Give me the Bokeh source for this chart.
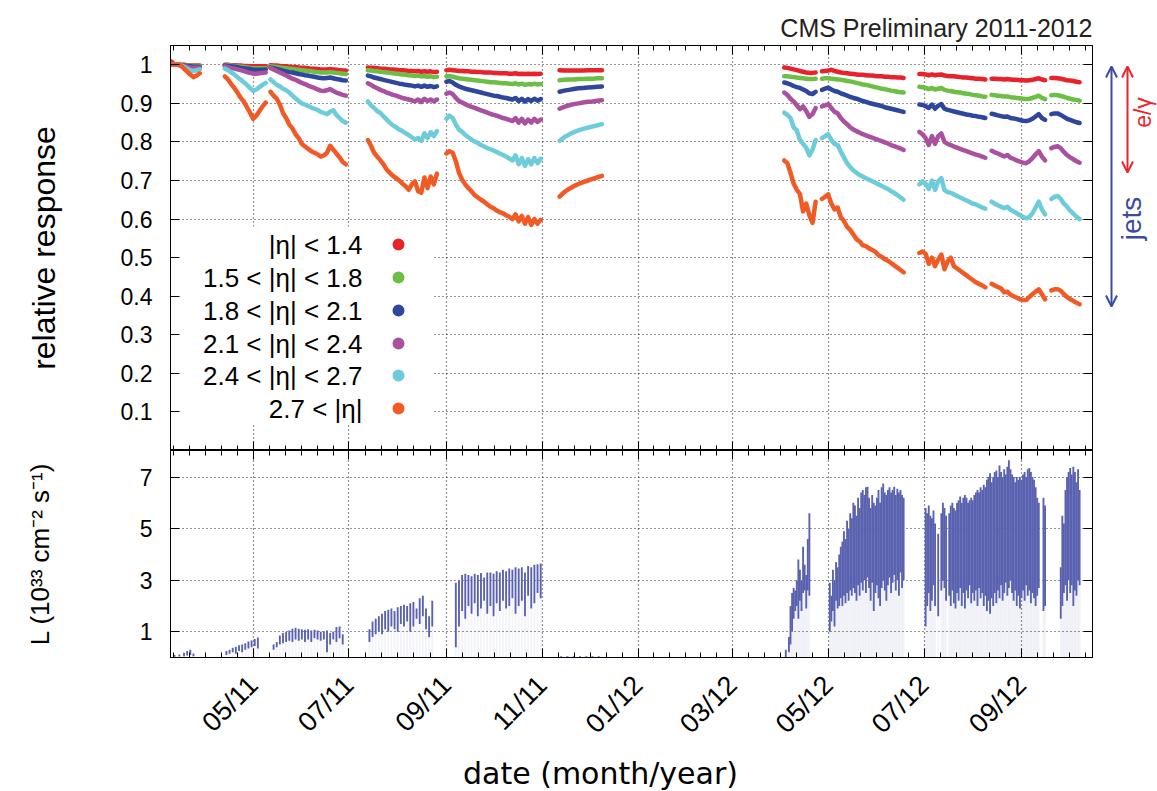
import math
from datetime import datetime, timedelta
from bokeh.plotting import figure
from bokeh.layouts import column, row
from bokeh.models import (Range1d, FixedTicker, DatetimeTickFormatter, LinearAxis, DatetimeAxis,
                          CustomJSTickFormatter, BoxAnnotation, Label, Arrow, OpenHead,
                          ColumnDataSource)
from bokeh.embed import file_html
from bokeh.resources import INLINE

# ---------------- data ----------------
REF_DATE = "2011-05-01"          # day 0 of all day offsets below
X_RANGE_DAYS = [-52.6, 534.2]    # visible date span (days from REF_DATE)
TOP_Y = [0.0, 1.05]
BOT_Y = [0.0, 8.03]
TOP_Y_TICKS = [0.1, 0.2, 0.3, 0.4, 0.5, 0.6, 0.7, 0.8, 0.9, 1.0]
BOT_Y_TICKS = [1, 3, 5, 7]
MONTH_TICKS = ["2011-05-01", "2011-07-01", "2011-09-01", "2011-11-01", "2012-01-01",
               "2012-03-01", "2012-05-01", "2012-07-01", "2012-09-01"]
MINOR_EDGES = ["2011-03-01", "2012-11-01"]

# sampling days of the response segments: (first day, last day, step)
SEGMENTS = [(-52, -34, 2), (-18, 8, 2), (11, 59, 2), (73, 117, 2), (123, 183, 2), (195, 222, 3),
            (338, 358, 2), (362, 414, 2), (424, 466, 2), (470, 504, 2), (508, 526, 2)]

RESP_RED = [
    [1.008, 1.0, 1.0, 1.0, 1.0, 0.999, 0.999, 0.998, 0.998, 0.998],
    [1.0, 1.0, 0.999, 0.999, 0.998, 0.998, 0.997, 0.997, 0.996, 0.996, 0.996, 0.996, 0.996, 0.996],
    [0.999, 0.998, 0.998, 0.997, 0.996, 0.996, 0.995, 0.994, 0.994, 0.993, 0.992, 0.992, 0.991, 0.99,
     0.99, 0.989, 0.988, 0.988, 0.988, 0.989, 0.988, 0.987, 0.986, 0.985, 0.985],
    [0.993, 0.992, 0.992, 0.991, 0.99, 0.99, 0.989, 0.988, 0.988, 0.987, 0.986, 0.986, 0.985, 0.984,
     0.984, 0.983, 0.984, 0.982, 0.983, 0.982, 0.983, 0.981, 0.982],
    [0.986, 0.987, 0.986, 0.985, 0.984, 0.984, 0.983, 0.983, 0.982, 0.982, 0.981, 0.981, 0.98, 0.98,
     0.98, 0.979, 0.979, 0.978, 0.978, 0.978, 0.977, 0.977, 0.978, 0.976, 0.977, 0.976, 0.977, 0.976,
     0.977, 0.976, 0.977],
    [0.986, 0.985, 0.985, 0.985, 0.985, 0.985, 0.986, 0.986, 0.986, 0.986],
    [0.993, 0.992, 0.99, 0.988, 0.986, 0.984, 0.982, 0.98, 0.979, 0.979, 0.98],
    [0.983, 0.984, 0.985, 0.987, 0.984, 0.982, 0.98, 0.979, 0.978, 0.977, 0.976, 0.975, 0.974, 0.974,
     0.973, 0.972, 0.972, 0.971, 0.97, 0.97, 0.969, 0.969, 0.968, 0.968, 0.967, 0.967, 0.966],
    [0.976, 0.976, 0.975, 0.973, 0.975, 0.973, 0.974, 0.975, 0.972, 0.971, 0.97, 0.97, 0.969, 0.968,
     0.967, 0.967, 0.966, 0.965, 0.964, 0.964, 0.963, 0.962],
    [0.964, 0.964, 0.963, 0.963, 0.962, 0.963, 0.962, 0.961, 0.961, 0.96, 0.96, 0.959, 0.96, 0.961,
     0.963, 0.965, 0.962, 0.96],
    [0.966, 0.966, 0.965, 0.964, 0.962, 0.96, 0.959, 0.958, 0.956, 0.955],
]
RESP_GREEN = [
    [1.0, 1.0, 1.0, 1.0, 0.999, 0.998, 0.998, 0.997, 0.997, 0.997],
    [0.999, 0.999, 0.998, 0.997, 0.996, 0.995, 0.994, 0.993, 0.992, 0.991, 0.991, 0.991, 0.991, 0.991],
    [0.996, 0.995, 0.994, 0.993, 0.992, 0.991, 0.99, 0.989, 0.988, 0.987, 0.986, 0.985, 0.984, 0.983,
     0.982, 0.981, 0.98, 0.98, 0.98, 0.981, 0.98, 0.979, 0.978, 0.977, 0.976],
    [0.986, 0.985, 0.984, 0.983, 0.982, 0.981, 0.98, 0.979, 0.978, 0.977, 0.976, 0.975, 0.974, 0.973,
     0.972, 0.971, 0.972, 0.97, 0.971, 0.969, 0.97, 0.968, 0.969],
    [0.97, 0.971, 0.969, 0.967, 0.965, 0.964, 0.963, 0.962, 0.961, 0.96, 0.959, 0.958, 0.957, 0.956,
     0.955, 0.955, 0.954, 0.953, 0.952, 0.952, 0.951, 0.95, 0.952, 0.949, 0.951, 0.948, 0.95, 0.949,
     0.951, 0.949, 0.95],
    [0.96, 0.961, 0.962, 0.962, 0.963, 0.963, 0.964, 0.964, 0.965, 0.965],
    [0.97, 0.97, 0.969, 0.968, 0.967, 0.966, 0.965, 0.964, 0.963, 0.963, 0.964],
    [0.964, 0.965, 0.965, 0.964, 0.963, 0.962, 0.961, 0.96, 0.958, 0.957, 0.955, 0.953, 0.951, 0.949,
     0.948, 0.946, 0.944, 0.942, 0.94, 0.938, 0.937, 0.935, 0.933, 0.932, 0.93, 0.929, 0.928],
    [0.943, 0.942, 0.94, 0.937, 0.94, 0.936, 0.938, 0.94, 0.935, 0.933, 0.932, 0.93, 0.929, 0.928,
     0.926, 0.925, 0.924, 0.922, 0.921, 0.92, 0.918, 0.917],
    [0.922, 0.921, 0.92, 0.919, 0.918, 0.918, 0.916, 0.915, 0.914, 0.913, 0.912, 0.911, 0.912, 0.914,
     0.917, 0.92, 0.914, 0.911],
    [0.921, 0.922, 0.921, 0.919, 0.917, 0.914, 0.912, 0.91, 0.909, 0.907],
]
RESP_BLUE = [
    [1.0, 1.0, 1.0, 0.999, 0.998, 0.997, 0.996, 0.995, 0.995, 0.995],
    [0.998, 0.997, 0.996, 0.995, 0.994, 0.992, 0.991, 0.99, 0.989, 0.987, 0.987, 0.987, 0.987, 0.988],
    [0.993, 0.991, 0.989, 0.987, 0.985, 0.983, 0.981, 0.98, 0.978, 0.976, 0.975, 0.973, 0.972, 0.97,
     0.969, 0.967, 0.966, 0.965, 0.966, 0.967, 0.965, 0.963, 0.962, 0.96, 0.959],
    [0.972, 0.97, 0.967, 0.965, 0.963, 0.961, 0.959, 0.957, 0.955, 0.953, 0.951, 0.95, 0.948, 0.947,
     0.946, 0.944, 0.946, 0.943, 0.946, 0.943, 0.945, 0.942, 0.944],
    [0.956, 0.958, 0.954, 0.948, 0.944, 0.941, 0.938, 0.936, 0.934, 0.932, 0.93, 0.928, 0.926, 0.924,
     0.922, 0.92, 0.919, 0.917, 0.915, 0.914, 0.912, 0.91, 0.914, 0.906, 0.912, 0.905, 0.911, 0.906,
     0.912, 0.907, 0.911],
    [0.93, 0.933, 0.935, 0.937, 0.939, 0.94, 0.941, 0.942, 0.943, 0.944],
    [0.954, 0.952, 0.949, 0.945, 0.942, 0.94, 0.936, 0.932, 0.926, 0.924, 0.93],
    [0.935, 0.938, 0.941, 0.936, 0.932, 0.93, 0.926, 0.923, 0.92, 0.917, 0.914, 0.912, 0.909, 0.906,
     0.904, 0.901, 0.899, 0.897, 0.895, 0.893, 0.89, 0.888, 0.886, 0.884, 0.882, 0.88, 0.878],
    [0.897, 0.896, 0.893, 0.888, 0.897, 0.886, 0.894, 0.898, 0.886, 0.883, 0.881, 0.879, 0.877, 0.875,
     0.873, 0.871, 0.87, 0.868, 0.867, 0.865, 0.864, 0.862],
    [0.873, 0.871, 0.869, 0.867, 0.865, 0.866, 0.862, 0.861, 0.859, 0.857, 0.855, 0.854, 0.856, 0.86,
     0.866, 0.872, 0.862, 0.857],
    [0.872, 0.874, 0.874, 0.87, 0.865, 0.86, 0.857, 0.854, 0.851, 0.849],
]
RESP_MAGENTA = [
    [1.0, 1.0, 1.0, 0.999, 0.997, 0.995, 0.993, 0.992, 0.992, 0.993],
    [0.996, 0.994, 0.992, 0.99, 0.988, 0.986, 0.984, 0.981, 0.979, 0.977, 0.977, 0.978, 0.979, 0.98],
    [0.992, 0.988, 0.984, 0.98, 0.976, 0.972, 0.968, 0.964, 0.961, 0.957, 0.953, 0.95, 0.946, 0.943,
     0.94, 0.936, 0.933, 0.932, 0.934, 0.937, 0.932, 0.928, 0.925, 0.922, 0.92],
    [0.952, 0.948, 0.943, 0.939, 0.935, 0.932, 0.928, 0.925, 0.922, 0.92, 0.917, 0.914, 0.912, 0.91,
     0.908, 0.905, 0.91, 0.904, 0.912, 0.906, 0.91, 0.905, 0.91],
    [0.925, 0.928, 0.924, 0.914, 0.906, 0.902, 0.898, 0.894, 0.891, 0.888, 0.885, 0.882, 0.879, 0.876,
     0.873, 0.87, 0.868, 0.865, 0.862, 0.86, 0.857, 0.854, 0.862, 0.85, 0.86, 0.848, 0.858, 0.85,
     0.86, 0.852, 0.858],
    [0.886, 0.891, 0.895, 0.898, 0.9, 0.902, 0.904, 0.905, 0.907, 0.908],
    [0.928, 0.922, 0.912, 0.905, 0.895, 0.885, 0.892, 0.88, 0.865, 0.872, 0.888],
    [0.892, 0.895, 0.898, 0.888, 0.878, 0.874, 0.862, 0.853, 0.846, 0.838, 0.832, 0.828, 0.824, 0.82,
     0.817, 0.814, 0.811, 0.808, 0.805, 0.802, 0.799, 0.796, 0.792, 0.789, 0.786, 0.783, 0.779],
    [0.826, 0.82, 0.81, 0.792, 0.815, 0.795, 0.815, 0.822, 0.8, 0.795, 0.792, 0.788, 0.785, 0.782,
     0.779, 0.776, 0.773, 0.77, 0.767, 0.765, 0.762, 0.759],
    [0.777, 0.773, 0.77, 0.766, 0.762, 0.766, 0.759, 0.756, 0.752, 0.749, 0.746, 0.745, 0.75, 0.758,
     0.768, 0.776, 0.762, 0.752],
    [0.784, 0.787, 0.789, 0.784, 0.774, 0.766, 0.76, 0.755, 0.75, 0.746],
]
RESP_CYAN = [
    [1.0, 1.0, 1.0, 0.999, 0.995, 0.99, 0.986, 0.984, 0.986, 0.988],
    [0.99, 0.986, 0.98, 0.975, 0.968, 0.962, 0.955, 0.948, 0.94, 0.932, 0.936, 0.942, 0.948, 0.953],
    [0.962, 0.955, 0.948, 0.944, 0.938, 0.934, 0.928, 0.92, 0.913, 0.906, 0.9, 0.897, 0.893, 0.889,
     0.886, 0.883, 0.878, 0.875, 0.872, 0.878, 0.882, 0.87, 0.862, 0.854, 0.85],
    [0.905, 0.895, 0.888, 0.88, 0.875, 0.866, 0.858, 0.85, 0.843, 0.838, 0.832, 0.828, 0.823, 0.818,
     0.812, 0.806, 0.81, 0.803, 0.822, 0.81, 0.825, 0.815, 0.828],
    [0.86, 0.868, 0.862, 0.845, 0.832, 0.826, 0.818, 0.812, 0.806, 0.801, 0.797, 0.792, 0.788, 0.784,
     0.781, 0.778, 0.774, 0.77, 0.766, 0.762, 0.757, 0.752, 0.765, 0.742, 0.758, 0.738, 0.755, 0.742,
     0.758, 0.745, 0.756],
    [0.803, 0.812, 0.819, 0.825, 0.83, 0.834, 0.837, 0.84, 0.843, 0.846],
    [0.876, 0.87, 0.862, 0.838, 0.83, 0.805, 0.795, 0.785, 0.765, 0.78, 0.805],
    [0.81, 0.815, 0.82, 0.805, 0.795, 0.792, 0.775, 0.76, 0.745, 0.735, 0.726, 0.72, 0.714, 0.71,
     0.706, 0.702, 0.698, 0.694, 0.69, 0.686, 0.682, 0.678, 0.672, 0.668, 0.662, 0.656, 0.65],
    [0.69, 0.698, 0.692, 0.678, 0.7, 0.676, 0.698, 0.706, 0.675, 0.67, 0.668, 0.664, 0.66, 0.656,
     0.652, 0.648, 0.644, 0.64, 0.638, 0.634, 0.63, 0.627],
    [0.645, 0.64, 0.636, 0.632, 0.628, 0.632, 0.624, 0.62, 0.615, 0.61, 0.606, 0.602, 0.605, 0.615,
     0.63, 0.645, 0.625, 0.612],
    [0.652, 0.658, 0.66, 0.652, 0.64, 0.632, 0.622, 0.614, 0.606, 0.6],
]
RESP_ORANGE = [
    [1.0, 1.0, 1.0, 0.998, 0.99, 0.982, 0.975, 0.968, 0.972, 0.978],
    [0.97, 0.962, 0.95, 0.94, 0.928, 0.915, 0.905, 0.89, 0.876, 0.86, 0.868, 0.88, 0.892, 0.902],
    [0.93, 0.92, 0.912, 0.897, 0.875, 0.862, 0.845, 0.835, 0.82, 0.81, 0.795, 0.788, 0.782, 0.776,
     0.772, 0.768, 0.762, 0.765, 0.772, 0.79, 0.78, 0.77, 0.76, 0.748, 0.742],
    [0.805, 0.79, 0.772, 0.762, 0.752, 0.742, 0.728, 0.72, 0.712, 0.706, 0.7, 0.692, 0.685, 0.676,
     0.69, 0.698, 0.672, 0.668, 0.708, 0.68, 0.71, 0.69, 0.718],
    [0.77, 0.776, 0.772, 0.75, 0.72, 0.702, 0.69, 0.68, 0.672, 0.662, 0.656, 0.65, 0.645, 0.638,
     0.632, 0.628, 0.622, 0.618, 0.615, 0.61, 0.606, 0.6, 0.612, 0.594, 0.608, 0.588, 0.605, 0.585,
     0.6, 0.588, 0.598],
    [0.658, 0.67, 0.678, 0.685, 0.691, 0.696, 0.7, 0.704, 0.708, 0.712],
    [0.752, 0.745, 0.72, 0.692, 0.676, 0.665, 0.62, 0.64, 0.61, 0.59, 0.645],
    [0.652, 0.658, 0.664, 0.64, 0.625, 0.63, 0.605, 0.595, 0.58, 0.572, 0.56, 0.548, 0.542, 0.532,
     0.53, 0.524, 0.52, 0.515, 0.506, 0.502, 0.496, 0.492, 0.486, 0.48, 0.474, 0.468, 0.462],
    [0.512, 0.516, 0.51, 0.484, 0.5, 0.478, 0.495, 0.508, 0.47, 0.49, 0.5, 0.478, 0.472, 0.466,
     0.46, 0.454, 0.448, 0.442, 0.436, 0.432, 0.428, 0.423],
    [0.432, 0.428, 0.424, 0.42, 0.41, 0.412, 0.404, 0.4, 0.396, 0.392, 0.39, 0.39, 0.398, 0.405,
     0.412, 0.418, 0.405, 0.392],
    [0.415, 0.418, 0.418, 0.414, 0.405, 0.398, 0.392, 0.388, 0.383, 0.379],
]

LEGEND_LABELS = ["|η| < 1.4", "1.5 < |η| < 1.8", "1.8 < |η| < 2.1",
                 "2.1 < |η| < 2.4", "2.4 < |η| < 2.7", "2.7 < |η|"]
COLORS = ["#E8212B", "#6DBE45", "#2E479C", "#A9519F", "#6CCCD9", "#F15A24"]

# instantaneous luminosity per fill: day, lowest and highest value (10^33 cm^-2 s^-1)
LUMI_DAY = [
    -50, -47, -44, -42, -40, -38,
    -17, -15, -13, -11, -9, -7, -5, -3, -1, 1, 3,
    13, 15, 17, 19, 21, 23, 25, 27, 29, 31, 33, 35, 37, 39, 41, 43, 45, 47, 49, 51, 53, 55, 57,
    74, 76, 78, 80, 82, 84, 86, 88, 90, 92, 94, 96, 98, 100, 102, 104, 106, 108, 110, 112, 114,
    129, 131, 133, 135, 137, 139, 141, 143, 145, 147, 149, 151, 153, 155, 157, 159, 161, 163, 165,
    167, 169, 171, 173, 175, 177, 179, 181, 183,
    196, 200, 204, 208, 212, 216, 220,
    339, 341, 342, 343, 344, 345, 346, 347, 348, 349, 350, 351, 352, 353, 354,
    367, 368, 369, 370, 371, 372, 373, 374, 375, 376, 377, 378, 379, 380, 381, 382, 383, 384, 385,
    386, 387, 388, 389, 390, 391, 392, 393, 394, 395, 396, 397, 398, 399, 400, 401, 402, 403, 404,
    405, 406, 407, 408, 409, 410, 411, 412, 413, 414,
    428, 429, 430, 431, 432, 433, 434, 436, 438, 439, 440, 441, 443, 444, 445, 446, 447, 448, 449,
    450, 451, 452, 453, 454, 455, 456, 457, 458, 459, 460, 461, 462, 463, 464, 465, 466, 467, 468,
    469, 470, 471, 472, 473, 474, 475, 476, 477, 478, 479, 480, 481, 482, 483, 484, 485, 486, 487,
    488, 489, 490, 491, 492, 493, 494, 495, 496, 497, 498, 499, 500, 503, 504,
    514, 515, 516, 517, 518, 519, 520, 521, 522, 523, 524, 525, 526,
]
LUMI_LOW = [
    0.03, 0.04, 0.05, 0.08, 0.10, 0.05,
    0.10, 0.15, 0.20, 0.15, 0.25, 0.20, 0.30, 0.35, 0.40, 0.45, 0.35,
    0.3, 0.4, 0.5, 0.55, 0.6, 0.65, 0.6, 0.7, 0.65, 0.7, 0.6, 0.7, 0.6, 0.75, 0.7, 0.65, 0.7, 0.2,
    0.5, 0.7, 0.6, 0.75, 0.5,
    0.6, 0.8, 0.9, 1.0, 0.9, 1.1, 1.0, 1.2, 1.1, 1.0, 1.3, 1.2, 1.4, 1.0, 1.2, 1.5, 1.3, 1.6, 1.1,
    0.8, 1.2,
    0.4, 1.2, 1.8, 1.5, 2.0, 1.7, 2.1, 1.6, 1.9, 2.2, 1.7, 2.0, 1.6, 2.1, 1.8, 2.2, 1.9, 2.0, 2.3,
    1.7, 2.0, 2.2, 1.6, 2.4, 1.9, 2.1, 2.5, 2.3,
    0.0, 0.0, 0.0, 0.0, 0.0, 0.0, 0.0,
    0.0, 0.2, 0.5, 1.0, 1.5, 1.8, 2.0, 1.5, 2.2, 1.8, 2.5, 2.6, 1.9, 2.6, 2.4,
    1.0, 1.4, 1.8, 1.2, 2.2, 1.9, 2.0, 2.3, 2.0, 2.4, 2.1, 2.5, 2.2, 2.6, 2.4, 2.7, 2.5, 2.2, 2.8,
    2.4, 2.9, 2.6, 3.0, 2.5, 3.1, 2.7, 2.2, 2.9, 1.8, 2.5, 2.8, 2.3, 2.0, 2.7, 3.0, 2.6, 2.2, 2.8,
    3.1, 2.5, 2.9, 3.2, 2.6, 3.0, 2.4, 3.3, 2.7, 3.0,
    1.2, 2.0, 2.5, 1.8, 2.2, 2.8, 2.0, 1.6, 2.6, 3.0, 2.7, 2.2, 2.4, 2.0, 2.6, 2.1, 1.9, 2.5, 2.2,
    2.7, 2.0, 2.5, 1.9, 2.6, 2.3, 2.8, 2.1, 2.5, 2.2, 2.6, 2.0, 2.7, 2.3, 2.5, 2.0, 2.4, 1.8, 2.2,
    1.7, 2.3, 2.0, 2.5, 2.1, 2.6, 2.3, 2.8, 2.2, 2.5, 2.9, 2.4, 2.7, 3.0, 2.5, 2.2, 2.6, 2.0, 2.4,
    1.9, 2.3, 2.6, 2.2, 2.8, 2.4, 2.6, 2.1, 2.5, 2.3, 2.0, 2.4, 2.7, 1.8, 2.0,
    1.5, 2.0, 2.5, 2.8, 2.2, 3.0, 2.5, 2.8, 2.0, 2.6, 2.4, 3.0, 2.8,
]
LUMI_HIGH = [
    0.10, 0.12, 0.18, 0.25, 0.30, 0.16,
    0.25, 0.30, 0.38, 0.42, 0.48, 0.50, 0.55, 0.62, 0.66, 0.72, 0.78,
    0.5, 0.6, 0.85, 0.95, 1.0, 1.05, 1.12, 1.15, 1.12, 1.1, 1.08, 1.1, 1.05, 1.08, 1.05, 1.0, 1.02,
    1.05, 0.95, 1.0, 1.18, 1.2, 0.9,
    1.1, 1.4, 1.5, 1.6, 1.7, 1.8, 1.85, 1.9, 1.8, 1.95, 2.0, 2.05, 2.0, 2.1, 2.15, 1.9, 2.3, 2.4,
    1.9, 1.6, 2.2,
    2.9, 3.0, 3.2, 3.25, 3.2, 3.15, 3.25, 3.2, 3.28, 3.1, 3.3, 3.3, 3.25, 3.35, 3.3, 3.4, 3.35,
    3.45, 3.4, 3.5, 3.45, 3.5, 3.3, 3.55, 3.5, 3.6, 3.62, 3.65,
    0.05, 0.05, 0.05, 0.05, 0.05, 0.05, 0.05,
    0.3, 0.8, 2.0, 2.5, 2.7, 2.6, 3.0, 3.8, 3.4, 3.0, 4.3, 3.6, 3.2, 4.6, 5.6,
    2.9, 2.4, 3.4, 3.0, 3.7, 3.5, 4.0, 4.3, 4.5, 4.9, 4.6, 5.3, 5.0, 5.6, 5.4, 6.0, 5.9, 5.5, 6.2,
    5.8, 6.4, 6.5, 6.3, 6.6, 6.62, 6.2, 5.8, 6.3, 6.0, 5.9, 6.2, 6.5, 6.0, 6.6, 6.75, 6.4, 6.3, 6.5,
    6.6, 6.4, 6.5, 6.62, 6.3, 6.55, 6.4, 6.5, 6.3, 6.2,
    5.8, 5.6, 5.9, 5.5, 5.4, 5.7, 5.2, 4.8, 5.6, 6.0, 5.8, 5.5, 5.6, 5.9, 6.0, 5.8, 5.7, 6.0, 6.1,
    6.25, 6.0, 6.2, 6.3, 6.2, 6.0, 6.1, 6.2, 6.1, 6.3, 6.4, 6.5, 6.4, 6.6, 6.5, 6.7, 6.6, 6.9, 7.0,
    7.15, 6.8, 7.0, 7.2, 7.25, 7.0, 7.45, 7.2, 7.0, 7.3, 7.1, 7.4, 7.65, 7.3, 7.1, 7.0, 6.8, 7.0,
    6.9, 7.0, 6.9, 7.1, 7.2, 7.0, 7.3, 7.35, 7.2, 7.0, 6.9, 6.6, 6.2, 6.0, 6.2, 5.9,
    3.5, 5.5, 5.2, 6.5, 7.0, 7.2, 7.35, 7.1, 7.4, 7.2, 6.8, 7.3, 6.5,
]
LUMI_COLOR = "#5A62B0"

# ---------------- layout (pixels) ----------------
PAGE_W, PAGE_H = 1157, 791
FRAME_LEFT, FRAME_WIDTH, RIGHT_BORDER = 170, 922, 65
TOP_RIGHT_PAD = 4
TOP_BORDER, TOP_FRAME_H = 45, 405
BOT_FRAME_H, BOT_BORDER = 207, 96
FONT = "Liberation Sans"

EPOCH = datetime(1970, 1, 1)
REF = datetime.strptime(REF_DATE, "%Y-%m-%d")
DAY_MS = 86400000.0


def day_ms(d):
    return (REF + timedelta(days=d) - EPOCH).total_seconds() * 1000.0


def date_ms(s):
    return (datetime.strptime(s, "%Y-%m-%d") - EPOCH).total_seconds() * 1000.0


X0, X1 = day_ms(X_RANGE_DAYS[0]), day_ms(X_RANGE_DAYS[1])


def px_x(px):
    return X0 + (px - FRAME_LEFT) / FRAME_WIDTH * (X1 - X0)


def py_top(py):
    return TOP_Y[1] - (py - TOP_BORDER) / TOP_FRAME_H * (TOP_Y[1] - TOP_Y[0])


major_ms = [date_ms(s) for s in MONTH_TICKS]
edges = [date_ms(MINOR_EDGES[0])] + major_ms + [date_ms(MINOR_EDGES[1])]
minor_ms = []
for a, b in zip(edges[:-1], edges[1:]):
    minor_ms += [a + k * (b - a) / 6.0 for k in range(6)]
minor_ms.append(edges[-1])

EMPTY = "return '';"


def x_ticker():
    return FixedTicker(ticks=major_ms, minor_ticks=minor_ms)


def style_axis(ax, show_labels, size="23px", label_size="32px"):
    ax.axis_line_color = "black"
    ax.axis_line_width = 1
    ax.major_tick_in = 9
    ax.major_tick_out = 0
    ax.minor_tick_in = 5
    ax.minor_tick_out = 0
    ax.major_tick_line_color = "black"
    ax.minor_tick_line_color = "black"
    ax.major_label_text_font = FONT
    ax.major_label_text_color = "black"
    if show_labels:
        ax.major_label_text_font_size = size
        ax.major_label_standoff = 18
    else:
        ax.formatter = CustomJSTickFormatter(code=EMPTY)
        ax.major_label_text_font_size = "1px"
        ax.major_label_standoff = 0
    ax.axis_label_text_font = FONT
    ax.axis_label_text_font_style = "normal"
    ax.axis_label_text_font_size = label_size
    ax.axis_label_text_color = "black"


def style_grid(p, yticks):
    p.xgrid.ticker = x_ticker()
    p.ygrid.ticker = FixedTicker(ticks=yticks)
    for g in (p.xgrid[0], p.ygrid[0]):
        g.grid_line_color = "black"
        g.grid_line_alpha = 0.85
        g.grid_line_dash = "1 3"
        g.grid_line_width = 1.2


def blank_figure(x0, x1, y0, y1, fw, fh, border_top=0, border_left=0, border_right=0):
    f = figure(frame_width=fw, frame_height=fh, x_range=Range1d(x0, x1), y_range=Range1d(y1, y0),
               output_backend="svg", toolbar_location=None,
               min_border_left=border_left, min_border_right=border_right,
               min_border_top=border_top, min_border_bottom=0,
               x_axis_location=None, y_axis_location=None)
    f.outline_line_color = None
    f.xgrid.visible = False
    f.ygrid.visible = False
    return f


xr = Range1d(X0, X1)

# ---------------- top panel: relative response ----------------
top = figure(frame_width=FRAME_WIDTH, frame_height=TOP_FRAME_H, x_range=xr,
             y_range=Range1d(TOP_Y[0], TOP_Y[1]), x_axis_type="datetime",
             output_backend="svg", toolbar_location=None,
             min_border_left=FRAME_LEFT, min_border_right=TOP_RIGHT_PAD,
             min_border_top=TOP_BORDER, min_border_bottom=0)
top.outline_line_color = "black"
top.xaxis.ticker = x_ticker()
style_axis(top.xaxis[0], False)
top.yaxis.ticker = FixedTicker(ticks=TOP_Y_TICKS, minor_ticks=[])
top.yaxis.formatter = CustomJSTickFormatter(
    code="return Math.abs(tick - 1) < 1e-9 ? '1' : tick.toFixed(1);")
style_axis(top.yaxis[0], True)
top.yaxis.axis_label = "relative response"
top.yaxis.axis_label_standoff = 56

ax_above = DatetimeAxis(ticker=x_ticker())
style_axis(ax_above, False)
top.add_layout(ax_above, "above")
ax_right = LinearAxis(ticker=FixedTicker(ticks=TOP_Y_TICKS, minor_ticks=[]))
style_axis(ax_right, False)
top.add_layout(ax_right, "right")
style_grid(top, TOP_Y_TICKS)

top.title.text = "CMS Preliminary 2011-2012"
top.title.align = "right"
top.title.text_font = FONT
top.title.text_font_size = "25px"
top.title.text_font_style = "normal"
top.title.text_color = "#222222"
top.title.standoff = 8

# legend background (under the data, over the grid)
top.add_layout(BoxAnnotation(right=px_x(433), top=py_top(226), bottom=py_top(424),
                             fill_color="white", fill_alpha=1.0, line_alpha=0, level="underlay"))

seg_days = [list(range(a, b + 1, s)) for a, b, s in SEGMENTS]
for color, segs in zip(COLORS, [RESP_RED, RESP_GREEN, RESP_BLUE, RESP_MAGENTA, RESP_CYAN, RESP_ORANGE]):
    xs, ys = [], []
    for days, vals in zip(seg_days, segs):
        pairs = list(zip(days, vals))
        xs.append([day_ms(d) for d, _ in pairs])
        ys.append([v for _, v in pairs])
    top.multi_line(xs=xs, ys=ys, line_color=color, line_width=4.5,
                   line_join="round", line_cap="round")

LEG_ROWS_PX = [244, 277, 310, 343, 375, 408]
for lab, ry in zip(LEGEND_LABELS, LEG_ROWS_PX):
    top.add_layout(Label(x=px_x(362), y=py_top(ry), text=lab, text_align="right",
                         text_baseline="middle", text_font=FONT, text_font_size="26px",
                         text_color="black"))
top.scatter(x=[px_x(398)] * len(COLORS), y=[py_top(r) for r in LEG_ROWS_PX],
            size=12, color=COLORS, marker="circle", line_alpha=0)

# ---------------- right strip with the jets / e-gamma ranges ----------------
STRIP_LEFT = FRAME_LEFT + FRAME_WIDTH + TOP_RIGHT_PAD
strip = blank_figure(STRIP_LEFT, PAGE_W, TOP_BORDER, TOP_BORDER + TOP_FRAME_H,
                     PAGE_W - STRIP_LEFT, TOP_FRAME_H, border_top=TOP_BORDER)
JETS_BLUE, EG_RED = "#3B4BA0", "#E8262E"
strip.add_layout(Arrow(x_start=1111, y_start=306, x_end=1111, y_end=66,
                       line_color=JETS_BLUE, line_width=2,
                       start=OpenHead(size=11, line_color=JETS_BLUE, line_width=2),
                       end=OpenHead(size=11, line_color=JETS_BLUE, line_width=2)))
strip.add_layout(Arrow(x_start=1127, y_start=172, x_end=1127, y_end=66,
                       line_color=EG_RED, line_width=2,
                       start=OpenHead(size=11, line_color=EG_RED, line_width=2),
                       end=OpenHead(size=11, line_color=EG_RED, line_width=2)))
strip.add_layout(Label(x=1131, y=218, text="jets", angle=math.pi / 2,
                       text_align="center", text_baseline="middle", text_font=FONT,
                       text_font_size="28px", text_color=JETS_BLUE))
strip.add_layout(Label(x=1142, y=112, text="e/γ", angle=math.pi / 2,
                       text_align="center", text_baseline="middle", text_font=FONT,
                       text_font_size="23px", text_color=EG_RED))

# ---------------- bottom panel: luminosity ----------------
bot = figure(frame_width=FRAME_WIDTH, frame_height=BOT_FRAME_H, x_range=xr,
             y_range=Range1d(BOT_Y[0], BOT_Y[1]), x_axis_type="datetime",
             output_backend="svg", toolbar_location=None,
             min_border_left=FRAME_LEFT, min_border_right=RIGHT_BORDER,
             min_border_top=0, min_border_bottom=BOT_BORDER)
bot.outline_line_color = "black"
bot.xaxis.ticker = x_ticker()
bot.xaxis.formatter = DatetimeTickFormatter(days="%m/%y", months="%m/%y", years="%m/%y",
                                            hours="%m/%y", hourmin="%m/%y")
style_axis(bot.xaxis[0], True, size="27px")
bot.xaxis.major_label_orientation = math.pi / 4
bot.xaxis.major_label_standoff = 23
bot.yaxis.ticker = FixedTicker(ticks=BOT_Y_TICKS, minor_ticks=[])
style_axis(bot.yaxis[0], True, label_size="26px")
bot.yaxis.axis_label = "L (10³³ cm⁻² s⁻¹)"
bot.yaxis.axis_label_standoff = 82

bax_above = DatetimeAxis(ticker=x_ticker())
style_axis(bax_above, False)
bot.add_layout(bax_above, "above")
bax_right = LinearAxis(ticker=FixedTicker(ticks=BOT_Y_TICKS, minor_ticks=[]))
style_axis(bax_right, False)
bot.add_layout(bax_right, "right")
style_grid(bot, BOT_Y_TICKS)

rows = list(zip(LUMI_DAY, LUMI_LOW, LUMI_HIGH))
lsrc = ColumnDataSource(data=dict(x=[day_ms(d) for d, _, _ in rows],
                                  low=[lo for _, lo, _ in rows],
                                  high=[hi for _, _, hi in rows]))
bot.vbar(x="x", width=1.2 * DAY_MS, bottom=0, top="low", source=lsrc,
         fill_color=LUMI_COLOR, fill_alpha=0.07, line_alpha=0)
bot.vbar(x="x", width=1.2 * DAY_MS, bottom="low", top="high", source=lsrc,
         fill_color=LUMI_COLOR, fill_alpha=1.0, line_alpha=0)

# ---------------- x-axis title strip (frame aligned with the panels) ----------------
TOP_TOTAL = TOP_BORDER + TOP_FRAME_H + 1
STRIP_Y0 = TOP_TOTAL + BOT_FRAME_H + BOT_BORDER
xlab = blank_figure(FRAME_LEFT, FRAME_LEFT + FRAME_WIDTH, STRIP_Y0, PAGE_H, FRAME_WIDTH,
                    PAGE_H - STRIP_Y0, border_left=FRAME_LEFT, border_right=RIGHT_BORDER)
xlab.add_layout(Label(x=600, y=PAGE_H - 17, text="date (month/year)", text_align="center",
                      text_baseline="middle", text_font="DejaVu Sans", text_font_size="30px",
                      text_color="black"))

layout = column(row(top, strip, spacing=0), bot, xlab, spacing=0)
with open("out.html", "w") as f:
    f.write(file_html(layout, INLINE))
